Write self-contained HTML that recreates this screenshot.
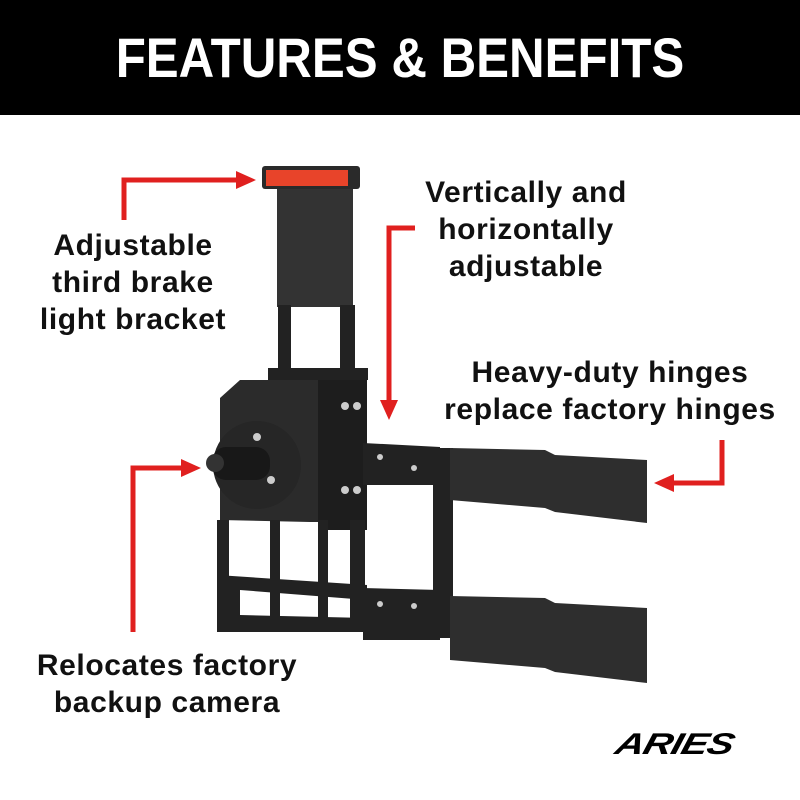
<!DOCTYPE html>
<html><head><style>
body{margin:0;width:800px;height:800px;background:#fff;position:relative;overflow:hidden;font-family:"Liberation Sans",sans-serif}
.hdr{position:absolute;left:0;top:0;width:800px;height:115px;background:#000}
.hdr div{position:absolute;left:0;width:800px;top:0;color:#fff;font-weight:bold;font-size:56px;text-align:center;line-height:115px;transform:scaleX(0.88)}
.t{position:absolute;text-align:center;font-size:30px;line-height:37px;color:#111;font-weight:bold;letter-spacing:0.6px}
</style></head><body>
<div class="hdr"><div>FEATURES &amp; BENEFITS</div></div>
<svg width="800" height="800" style="position:absolute;left:0;top:0">
<g stroke="#e0201f" stroke-width="5" fill="none">
<polyline points="124,220 124,180 240,180"/>
<polyline points="415,228 389,228 389,405"/>
<polyline points="722,440 722,483 670,483"/>
<polyline points="133,632 133,468 185,468"/>
</g>
<g fill="#e0201f">
<polygon points="256,180 236,171 236,189"/>
<polygon points="389,420 380,400 398,400"/>
<polygon points="654,483 674,474 674,492"/>
<polygon points="201,468 181,459 181,477"/>
</g>
<g fill="#222">
<rect x="262" y="166" width="98" height="23" rx="3" fill="#2a2a2a"/>
<rect x="266" y="170" width="82" height="16" fill="#e8442a"/>
<rect x="277" y="189" width="76" height="118" fill="#333"/>
<rect x="278" y="305" width="13" height="68"/>
<rect x="340" y="305" width="15" height="68"/>
<rect x="268" y="368" width="100" height="12"/>
<polygon points="220,398 240,380 367,380 367,522 310,522 220,520" fill="#2b2b2b"/>
<rect x="318" y="380" width="49" height="150" fill="#1d1d1d"/>
<circle cx="257" cy="465" r="44" fill="#262626"/>
<rect x="212" y="447" width="58" height="33" rx="14" fill="#181818"/>
<circle cx="215" cy="463" r="9" fill="#333"/>
<rect x="217" y="520" width="12" height="112"/>
<rect x="270" y="520" width="10" height="105"/>
<rect x="318" y="520" width="10" height="110"/>
<rect x="350" y="520" width="15" height="110"/>
<polygon points="217,575 367,585 367,600 240,590 240,615 367,618 367,632 217,632"/>
<polygon points="363,443 440,447 440,485 363,485"/>
<rect x="433" y="448" width="20" height="190"/>
<polygon points="450,448 545,450 555,455 647,460 647,523 555,512 545,508 450,500" fill="#2e2e2e"/>
<polygon points="363,588 440,590 440,640 363,640"/>
<polygon points="450,596 545,598 555,603 647,608 647,683 555,672 545,668 450,660" fill="#2e2e2e"/>
</g>
<g fill="#ccc">
<circle cx="345" cy="406" r="4"/><circle cx="357" cy="406" r="4"/>
<circle cx="345" cy="490" r="4"/><circle cx="357" cy="490" r="4"/>
<circle cx="257" cy="437" r="4"/><circle cx="271" cy="480" r="4"/>
<circle cx="380" cy="457" r="3"/><circle cx="414" cy="468" r="3"/>
<circle cx="380" cy="604" r="3"/><circle cx="414" cy="606" r="3"/>
</g>
</svg>
<div class="t" style="left:18px;top:227px;width:230px">Adjustable<br>third brake<br>light bracket</div>
<div class="t" style="left:386px;top:174px;width:280px">Vertically and<br>horizontally<br>adjustable</div>
<div class="t" style="left:430px;top:354px;width:360px">Heavy-duty hinges<br>replace factory hinges</div>
<div class="t" style="left:7px;top:647px;width:320px">Relocates factory<br>backup camera</div>
<div style="position:absolute;left:616px;top:722px;font-size:40px;font-weight:bold;font-style:italic;color:#000;letter-spacing:-1px;transform:skewX(-15deg) scaleY(0.75)">ARIES</div>
</body></html>
